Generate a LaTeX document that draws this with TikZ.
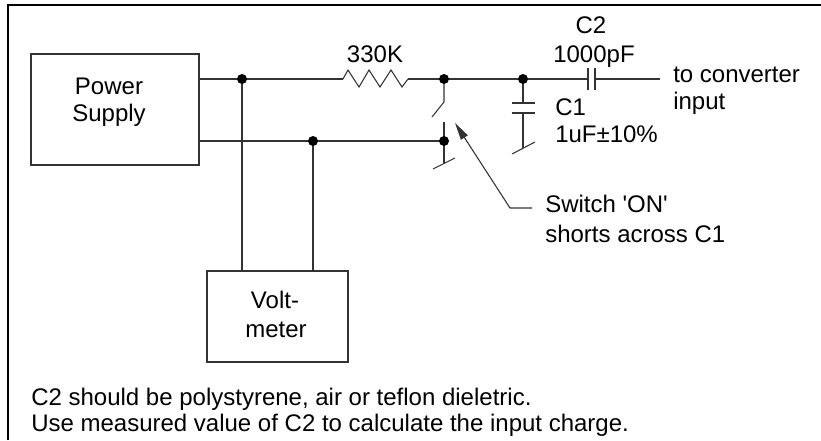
\documentclass[tikz,border=0pt]{standalone}
\usepackage{fontspec}
\setmainfont{Liberation Sans}
\usetikzlibrary{arrows.meta,calc}

\tikzset{
  caja/.style={draw=black!80, line width=0.8pt, inner sep=0pt},
  cable/.style={black!80, line width=0.8pt},
  punto/.style={circle, fill=black, inner sep=0pt, minimum size=7.5pt},
  letra/.style={inner sep=0pt, font=\fontsize{18}{20}\selectfont},
}

\begin{document}
\begin{tikzpicture}[x=0.75pt,y=-0.75pt]
  \useasboundingbox (0,0) rectangle (821,440);
  %marco
  \draw[line width=2.2pt] (8,440) -- (8,5) -- (821,5);

  %fuente
  \node[caja, minimum width=126pt, minimum height=83.25pt] (fuente) at (115,109.5) {};
  \node[letra, anchor=base] (fuente1) at (109,94) {Power};
  \node[letra, anchor=base] (fuente2) at (109,121) {Supply};

  %voltimetro
  \node[caja, minimum width=105.75pt, minimum height=68.25pt] (volt) at (277.5,316.5) {};
  \node[letra, anchor=base] (volt1) at (275,308) {Volt-};
  \node[letra, anchor=base] (volt2) at (276,337) {meter};

  %puntos del circuito
  \coordinate (ja) at (242,79);
  \coordinate (jb) at (313,141);
  \coordinate (ra) at (343,79);
  \coordinate (rb) at (408,79);
  \coordinate (sa) at (444,79);
  \coordinate (sb) at (444,141);
  \coordinate (ca) at (523,79);
  \coordinate (c2a) at (588,79);
  \coordinate (c2b) at (595,79);
  \coordinate (salida) at (660,79);

  %cables
  \draw[cable] (fuente.east |- ja) -- (ra);
  \draw[cable] (ra) -- ++(5,-9) -- ++(11,17) -- ++(10,-17) -- ++(11,17)
               -- ++(11,-17) -- ++(11,17) -- (rb);
  \draw[cable] (rb) -- (c2a);
  \draw[cable] (c2b) -- (salida);
  \draw[cable] (fuente.east |- jb) -- (sb);
  \draw[cable] (ja) -- (ja |- volt.north);
  \draw[cable] (jb) -- (jb |- volt.north);

  %C2
  \draw[cable] ($(c2a)+(0,-11)$) -- ($(c2a)+(0,11)$);
  \draw[cable] ($(c2b)+(0,-11)$) -- ($(c2b)+(0,11)$);

  %interruptor
  \draw[cable] (sa) -- ++(0,23) -- ++(-12,15);
  \draw[cable] ($(sb)+(0,-19)$) -- ($(sb)+(0,22)$);
  \draw[cable] ($(sb)+(-11,28)$) -- ($(sb)+(11,17)$);

  %C1
  \draw[cable] (ca) -- ++(0,24);
  \draw[cable] ($(ca)+(-11.5,24)$) -- ++(23,0);
  \draw[cable] ($(ca)+(-11.5,34)$) -- ++(23,0);
  \draw[cable] ($(ca)+(0,34)$) -- ++(0,35);
  \draw[cable] ($(ca)+(-11,75)$) -- ++(23,-12);

  \node[punto] (pa) at (ja) {};
  \node[punto] (pb) at (jb) {};
  \node[punto] (pc) at (sa) {};
  \node[punto] (pd) at (sb) {};
  \node[punto] (pe) at (ca) {};

  %flecha
  \coordinate (nota) at (532,208);
  \coordinate (codo) at (510,208);
  \coordinate (punta) at (455,123);
  \draw[cable, -{Triangle[length=13pt,width=6pt]}] (nota) -- (codo) -- (punta);

  %etiquetas
  \node[letra, anchor=base] (res) at (375,62) {330K};
  \node[letra, anchor=base] (c2n) at (591,33) {C2};
  \node[letra, anchor=base] (c2v) at (594,62) {1000pF};
  \node[letra, anchor=base west] (c1n) at (555,115) {C1};
  \node[letra, anchor=base west] (c1v) at (555,142) {1uF±10\%};
  \node[letra, anchor=base west] (conv1) at (673,82) {to converter};
  \node[letra, anchor=base west] (conv2) at (673,109) {input};
  \node[letra, anchor=base west] (sw1) at (545,212) {Switch \textquotesingle ON\textquotesingle};
  \node[letra, anchor=base west] (sw2) at (545,242) {shorts across C1};
  \node[letra, anchor=base west] (nota1) at (31,405) {C2 should be polystyrene, air or teflon dieletric.};
  \node[letra, anchor=base west] (nota2) at (31,431) {Use measured value of C2 to calculate the input charge.};
\end{tikzpicture}
\end{document}
